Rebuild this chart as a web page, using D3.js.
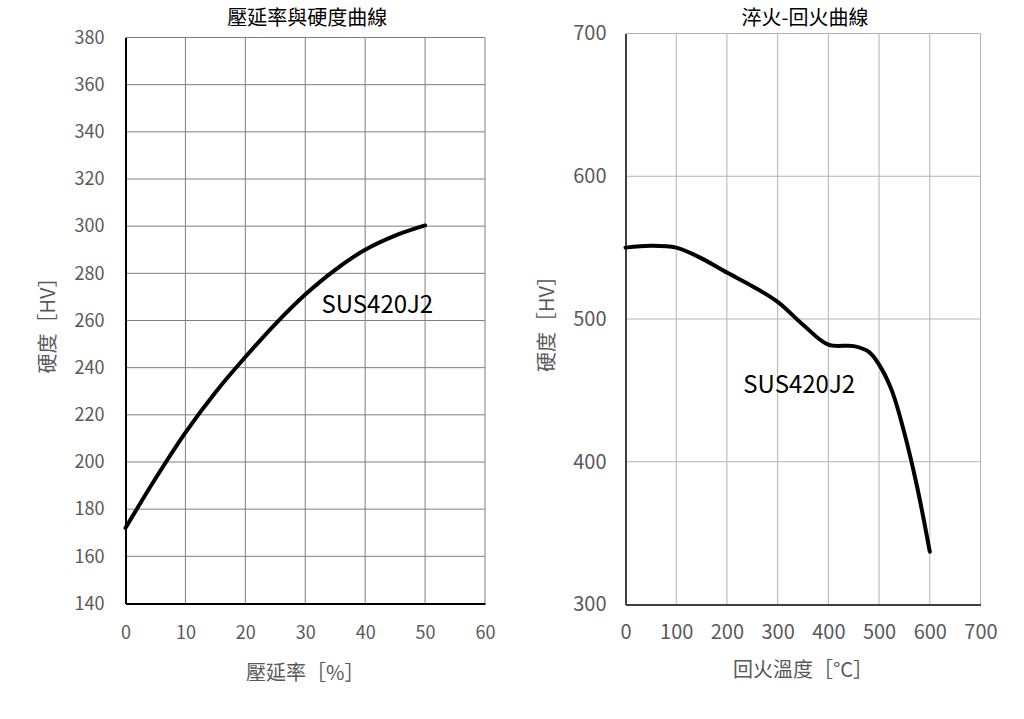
<!DOCTYPE html>
<html lang="zh-Hant">
<head>
<meta charset="utf-8">
<title>硬度曲線</title>
<script src="https://cdn.jsdelivr.net/npm/d3@7"></script>
<style>
  body { margin: 0; background: #fff; }
  text { font-family: "Noto Sans CJK TC", "Noto Sans", sans-serif; }
  .tick text { fill: #595959; }
  .axis-title { fill: #595959; font-size: 20px; }
  .title { fill: #000; font-size: 20px; }
  .label { fill: #000; font-size: 24px; }
</style>
</head>
<body>
<svg width="1024" height="719"></svg>
<script>
// 壓延率 vs 硬度
var rollX = [0, 5, 10, 15, 20, 25, 30, 35, 40, 45, 50];
var rollHV = [172, 193, 212.5, 229.5, 244.5, 258.5, 271, 281.5, 290, 296, 300.3];
var rollXTicks = [0, 10, 20, 30, 40, 50, 60];
var rollYTicks = [140, 160, 180, 200, 220, 240, 260, 280, 300, 320, 340, 360, 380];

// 淬火-回火
var tempX = [0, 50, 100, 150, 200, 250, 300, 350, 400, 450, 480, 500, 525, 550, 575, 600];
var tempHV = [550, 551.3, 550, 542.5, 532.5, 523, 512, 496, 482, 481, 477, 468, 450, 420, 382.5, 337];
var tempXTicks = [0, 100, 200, 300, 400, 500, 600, 700];
var tempYTicks = [300, 400, 500, 600, 700];

var svg = d3.select("svg");

function drawChart(opt) {
  var x = d3.scaleLinear().domain(opt.xDomain).range([opt.left, opt.right]);
  var y = d3.scaleLinear().domain(opt.yDomain).range([opt.bottom, opt.top]);
  var g = svg.append("g");

  // grid
  g.selectAll("line.vg").data(opt.xTicks.slice(1)).enter().append("line")
    .attr("x1", function (d) { return x(d); }).attr("x2", function (d) { return x(d); })
    .attr("y1", opt.top).attr("y2", opt.bottom)
    .attr("stroke", opt.gridColor).attr("stroke-width", 1);
  g.selectAll("line.hg").data(opt.yTicks.slice(1)).enter().append("line")
    .attr("x1", opt.left).attr("x2", opt.right)
    .attr("y1", function (d) { return y(d); }).attr("y2", function (d) { return y(d); })
    .attr("stroke", opt.gridColor).attr("stroke-width", 1);

  // axes
  var xa = g.append("g").attr("transform", "translate(0," + opt.bottom + ")")
    .call(d3.axisBottom(x).tickValues(opt.xTicks).tickSize(0).tickPadding(opt.xPad));
  var ya = g.append("g").attr("transform", "translate(" + opt.left + ",0)")
    .call(d3.axisLeft(y).tickValues(opt.yTicks).tickSize(0).tickPadding(opt.yPad));
  [xa, ya].forEach(function (a) {
    a.attr("font-family", null).attr("font-size", opt.tickSize);
    a.select(".domain").attr("stroke", opt.axisColor).attr("stroke-width", 2);
  });

  // curve
  var pts = opt.xs.map(function (d, i) { return [d, opt.ys[i]]; });
  g.append("path").datum(pts)
    .attr("fill", "none").attr("stroke", "#000").attr("stroke-width", 4)
    .attr("stroke-linecap", "round").attr("stroke-linejoin", "round")
    .attr("d", d3.line().curve(d3.curveCatmullRom.alpha(0.5))
      .x(function (d) { return x(d[0]); }).y(function (d) { return y(d[1]); }));

  g.append("text").attr("class", "title")
    .attr("x", (opt.left + opt.right) / 2 + 2).attr("y", 25)
    .attr("text-anchor", "middle").text(opt.title);
  g.append("text").attr("class", "axis-title")
    .attr("x", (opt.left + opt.right) / 2).attr("y", opt.bottom + opt.xTitleDy)
    .attr("text-anchor", "middle").text(opt.xTitle);
  g.append("text").attr("class", "axis-title")
    .attr("transform", "translate(" + opt.yTitleX + "," + ((opt.top + opt.bottom) / 2) + ") rotate(-90)")
    .attr("text-anchor", "middle").text("硬度［HV］");
  g.append("text").attr("class", "label")
    .attr("x", x(opt.labelAt[0])).attr("y", y(opt.labelAt[1]))
    .text("SUS420J2");
}

drawChart({
  xDomain: [0, 60], yDomain: [140, 380],
  left: 125.5, right: 485, top: 37.5, bottom: 603.5,
  xTicks: rollXTicks, yTicks: rollYTicks,
  xs: rollX, ys: rollHV,
  gridColor: "#7f7f7f", axisColor: "#000",
  tickSize: 18, xPad: 23, yPad: 21, xTitleDy: 76,
  title: "壓延率與硬度曲線", xTitle: "壓延率［%］", yTitleX: 55,
  labelAt: [32.7, 263.3]
});

drawChart({
  xDomain: [0, 700], yDomain: [300, 700],
  left: 625.5, right: 980.5, top: 33.5, bottom: 604.5,
  xTicks: tempXTicks, yTicks: tempYTicks,
  xs: tempX, ys: tempHV,
  gridColor: "#b3b3b3", axisColor: "#404040",
  tickSize: 20, xPad: 20, yPad: 19, xTitleDy: 72,
  title: "淬火-回火曲線", xTitle: "回火溫度［°C］", yTitleX: 554,
  labelAt: [232.3, 448.4]
});
</script>
</body>
</html>
